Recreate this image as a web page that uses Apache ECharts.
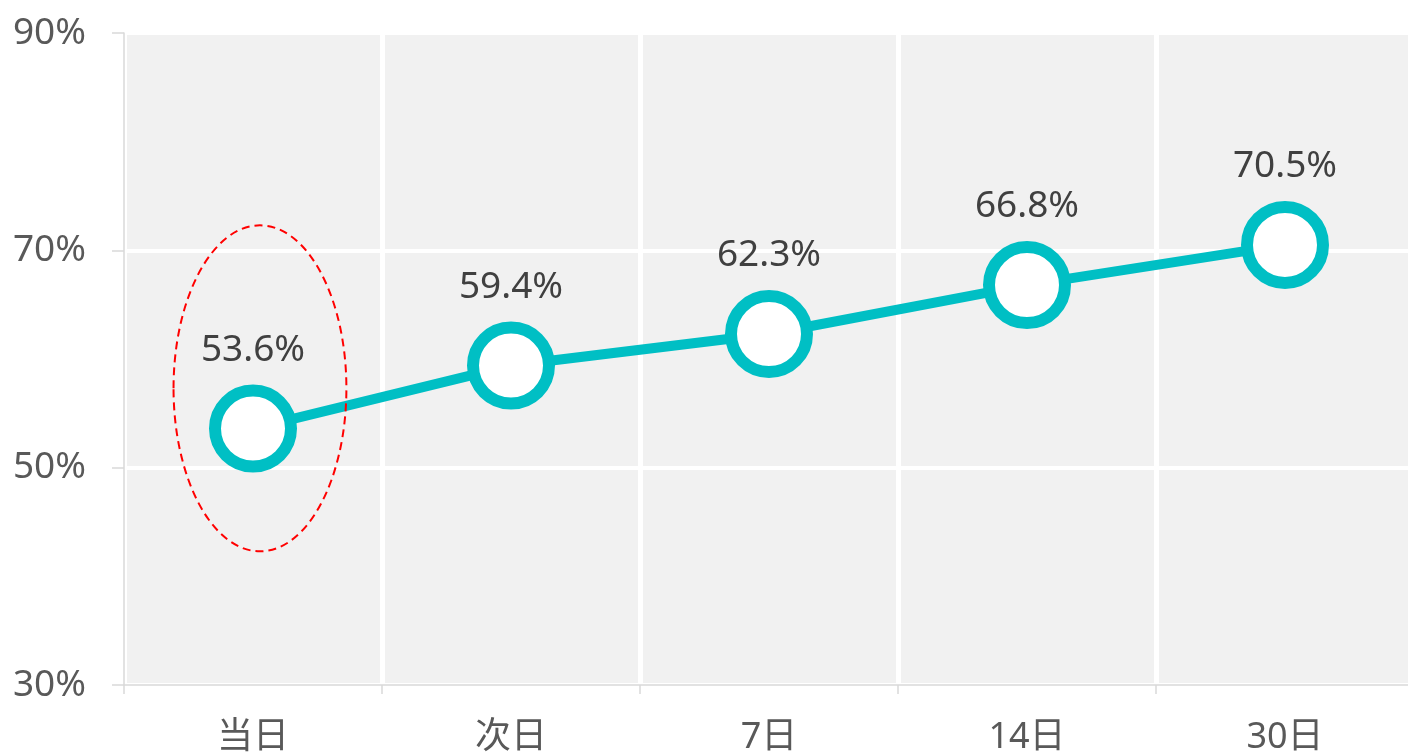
<!DOCTYPE html>
<html>
<head>
<meta charset="utf-8">
<script src="https://cdn.jsdelivr.net/npm/echarts@6/dist/echarts.min.js"></script>
<style>html,body{margin:0;padding:0;background:#fff;}#c{width:1408px;height:752px;}</style>
</head>
<body>
<div id="c"></div>
<script>
var categories = ['当日', '次日', '7日', '14日', '30日'];
var retention = [53.6, 59.4, 62.3, 66.8, 70.5];
var yTicks = [30, 50, 70, 90];
var highlightIndex = 0;
var highlightRange = [42.3, 72.3];

var FONT = "'Segoe UI','Noto Sans','Noto Sans CJK SC',sans-serif";
var chart = echarts.init(document.getElementById('c'));
var option = {
  backgroundColor: '#ffffff',
  animation: false,
  grid: {left: 124, right: -6, top: 33, bottom: 67, outerBoundsMode: 'none', containLabel: false,
         show: true, backgroundColor: '#f1f1f1', borderWidth: 0},
  xAxis: {
    type: 'category',
    data: categories,
    boundaryGap: true,
    axisLine: {show: true, lineStyle: {color: '#d9d9d9', width: 1.5}},
    axisTick: {show: true, length: 9, lineStyle: {color: '#d9d9d9', width: 1.5}},
    axisLabel: {color: '#595959', fontSize: 36, margin: 35, fontFamily: FONT},
    splitLine: {show: true, lineStyle: {color: '#ffffff', width: 5}}
  },
  yAxis: {
    type: 'value',
    min: yTicks[0],
    max: yTicks[yTicks.length - 1],
    interval: yTicks[1] - yTicks[0],
    axisLine: {show: true, lineStyle: {color: '#d9d9d9', width: 1.5}},
    axisTick: {show: true, length: 12, lineStyle: {color: '#d9d9d9', width: 1.5}},
    axisLabel: {color: '#595959', fontSize: 37, margin: 38, fontFamily: FONT, formatter: '{value}%'},
    splitLine: {show: true, lineStyle: {color: '#ffffff', width: 4}}
  },
  series: [{
    type: 'line',
    data: retention,
    symbol: 'circle',
    symbolSize: 76,
    lineStyle: {color: '#00bfc4', width: 10},
    itemStyle: {color: '#ffffff', borderColor: '#00bfc4', borderWidth: 12},
    label: {
      show: true, position: 'top', distance: 16,
      color: '#404040', fontSize: 37, fontFamily: FONT,
      formatter: function (p) { return p.value.toFixed(1) + '%'; }
    },
    z: 3
  }]
};
chart.setOption(option);

function drawEllipse() {
  var c0 = chart.convertToPixel({gridIndex: 0}, [highlightIndex, highlightRange[0]]);
  var c1 = chart.convertToPixel({gridIndex: 0}, [highlightIndex + 1, highlightRange[1]]);
  var band = c1[0] - c0[0];
  var cx = c0[0] + band * 0.027;
  var cy = (c0[1] + c1[1]) / 2;
  var ry = (c0[1] - c1[1]) / 2;
  var rx = band * 0.335;
  chart.setOption({
    graphic: [{
      type: 'ellipse', z: 100,
      shape: {cx: cx, cy: cy, rx: rx, ry: ry},
      style: {fill: 'none', stroke: '#ff0000', lineWidth: 2, lineDash: [8, 5]}
    }]
  });
}
drawEllipse();
</script>
</body>
</html>
